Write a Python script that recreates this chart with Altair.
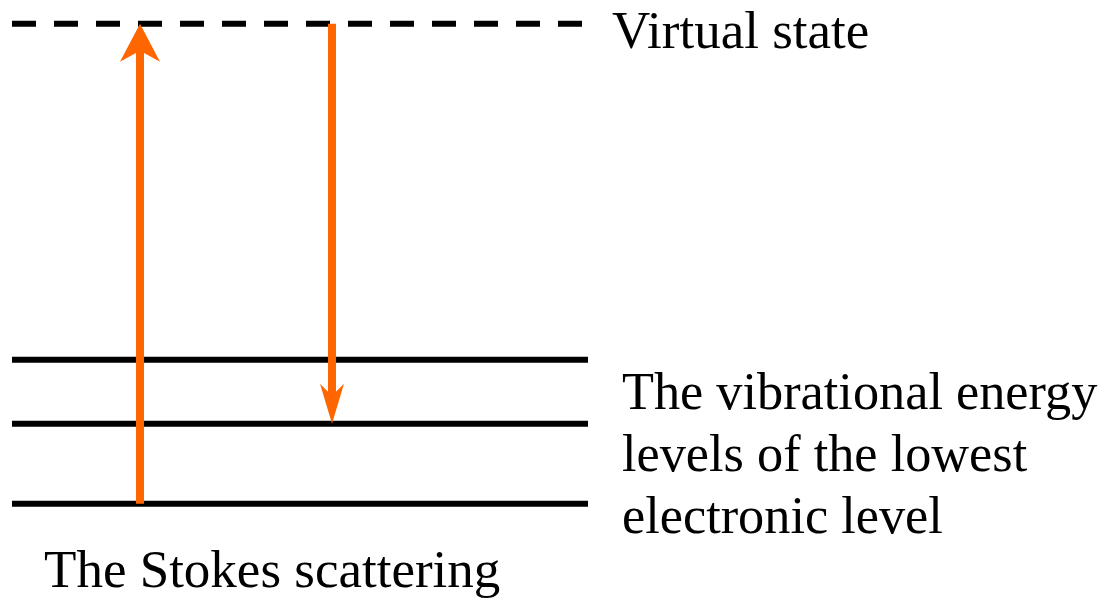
import altair as alt
import pandas as pd

# Energy levels (arbitrary units; v0 = 0)
level_energy = [0.0, 1.0, 1.8]
virtual_energy = 6.0
level_x_start = [0.0, 0.0, 0.0]
level_x_end = [1.0, 1.0, 1.0]

# Transitions (Stokes scattering): excitation up, emission down
trans_names = ["excitation", "emission"]
trans_x = [2 / 9, 5 / 9]
trans_from = [0.0, 6.0]
trans_to = [6.0, 1.0]

# Labels
title_text = ["Virtual state", "The Stokes scattering"]
title_x = [1.0417, 0.0556]
title_y = [5.69, -1.0375]

level_text = ["The vibrational energy", "levels of the lowest", "electronic level"]
level_text_x = [1.059, 1.059, 1.059]
level_text_y = [1.18, 0.409, -0.362]

ORANGE = "#ff6600"
FONT = "Liberation Serif"

xs = alt.Scale(domain=[-0.006944, 1.892361], nice=False, zero=False)
ys = alt.Scale(domain=[-1.216, 6.196], nice=False, zero=False)

levels = pd.DataFrame({"E": level_energy, "x0": level_x_start, "x1": level_x_end})
virtual = pd.DataFrame({"E": [virtual_energy], "x0": [0.0], "x1": [1.0]})
trans = pd.DataFrame({"name": trans_names, "x": trans_x, "E0": trans_from, "E1": trans_to})
trans["shaft_end"] = [trans_to[0] - 0.3, trans_to[1] + 0.3]
titles = pd.DataFrame({"text": title_text, "x": title_x, "y": title_y})
level_labels = pd.DataFrame({"text": level_text, "x": level_text_x, "y": level_text_y})

solid = alt.Chart(levels).mark_rule(color="black", strokeWidth=6, strokeCap="butt").encode(
    x=alt.X("x0:Q", scale=xs, axis=None),
    x2="x1:Q",
    y=alt.Y("E:Q", scale=ys, axis=None),
)

dashed = alt.Chart(virtual).mark_rule(color="black", strokeWidth=6, strokeDash=[24, 18], strokeCap="butt").encode(
    x=alt.X("x0:Q", scale=xs, axis=None),
    x2="x1:Q",
    y=alt.Y("E:Q", scale=ys, axis=None),
)

shafts = alt.Chart(trans).mark_rule(color=ORANGE, strokeWidth=8, strokeCap="butt").encode(
    x=alt.X("x:Q", scale=xs, axis=None),
    y=alt.Y("E0:Q", scale=ys, axis=None),
    y2="shaft_end:Q",
)

up_head = alt.Chart(trans[trans.name == "excitation"]).mark_point(
    filled=True, opacity=1, strokeWidth=0, color=ORANGE,
    shape="M0,0 L1,1.9 L0,1.35 L-1,1.9 Z", size=1600,
).encode(
    x=alt.X("x:Q", scale=xs, axis=None),
    y=alt.Y("E1:Q", scale=ys, axis=None),
)

down_head = alt.Chart(trans[trans.name == "emission"]).mark_point(
    filled=True, opacity=1, strokeWidth=0, color=ORANGE,
    shape="M0,0 L1,-3.333 L0,-2.333 L-1,-3.333 Z", size=576,
).encode(
    x=alt.X("x:Q", scale=xs, axis=None),
    y=alt.Y("E1:Q", scale=ys, axis=None),
)

title_marks = alt.Chart(titles).mark_text(
    align="left", baseline="alphabetic", font=FONT, fontSize=53, color="black",
).encode(
    x=alt.X("x:Q", scale=xs, axis=None),
    y=alt.Y("y:Q", scale=ys, axis=None),
    text="text:N",
)

level_marks = alt.Chart(level_labels).mark_text(
    align="left", baseline="alphabetic", font=FONT, fontSize=52.3, color="black",
).encode(
    x=alt.X("x:Q", scale=xs, axis=None),
    y=alt.Y("y:Q", scale=ys, axis=None),
    text="text:N",
)

chart = alt.layer(solid, dashed, shafts, up_head, down_head, title_marks, level_marks).properties(
    width=1094, height=593, padding=0,
    autosize=alt.AutoSizeParams(type="none"),
    background="white",
).configure_view(stroke=None)

chart.save("out.html", embed_options={"renderer": "svg", "actions": False})
